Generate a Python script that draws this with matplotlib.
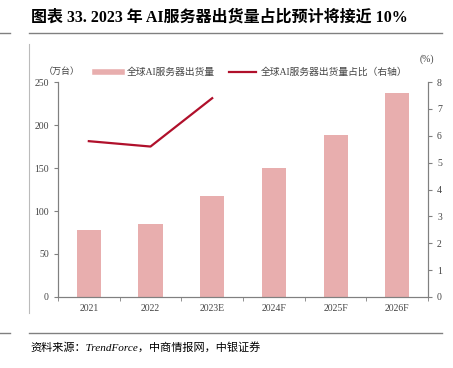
import matplotlib.pyplot as plt
import numpy as np
from matplotlib.lines import Line2D

plt.rcParams['font.family'] = ['Liberation Serif', 'Noto Sans CJK SC']

years = ['2021', '2022', '2023E', '2024F', '2025F', '2026F']
shipments = [78, 85, 118, 150, 189, 237]      # 万台
share_years = ['2021', '2022', '2023E']
share = [5.8, 5.6, 7.4]                        # %

bar_color = '#E8AEAE'
line_color = '#B0102B'
grey = '#808080'

fig = plt.figure(figsize=(4.53, 3.68), dpi=100)
ax = fig.add_axes([0.128, 0.193, 0.817, 0.584])
ax2 = ax.twinx()

x = np.arange(len(years))
ax.bar(x, shipments, width=0.39, color=bar_color, zorder=2)
ax2.plot([years.index(y) for y in share_years], share, color=line_color, lw=1.6)

ax.set_xlim(-0.5, len(years) - 0.5)
ax.set_ylim(0, 250)
ax.set_yticks(range(0, 251, 50))
ax2.set_ylim(0, 8)
ax2.set_yticks(range(0, 9))

ax.set_xticks(x)
ax.set_xticklabels(years)
ax.set_xticks(np.arange(-0.5, len(years), 1), minor=True)
ax.tick_params(axis='x', which='major', length=0, pad=5)
ax.tick_params(axis='x', which='minor', length=3, color=grey, direction='out')

for a in (ax, ax2):
    for s in a.spines.values():
        s.set_color(grey)
    a.spines['top'].set_visible(False)
    a.tick_params(axis='y', length=3, color=grey, labelsize=7, labelcolor='#444444')
ax.tick_params(axis='x', labelsize=7, labelcolor='#444444')

fig.text(0.137, 0.805, '（万台）', fontsize=6.5, ha='center', va='center', color='#444444')
fig.text(0.943, 0.838, '(%)', fontsize=7, ha='center', va='center', color='#444444')

handles = [Line2D([], [], color=bar_color, lw=4),
           Line2D([], [], color=line_color, lw=1.6)]
fig.legend(handles, ['全球AI服务器出货量', '全球AI服务器出货量占比（右轴）'],
           loc='center', bbox_to_anchor=(0.555, 0.803), ncol=2, frameon=False,
           fontsize=7, handlelength=2.8, columnspacing=1.4, handletextpad=0.5,
           labelcolor='#444444')

# title, rules and source
fig.text(0.068, 0.951, '图表 33. 2023 年 AI服务器出货量占比预计将接近 10%',
         fontsize=11.5, fontweight='bold', ha='left', va='center')
fig.add_artist(Line2D([0.064, 0.976], [0.91, 0.91], color=grey, lw=1))
fig.add_artist(Line2D([0.0, 0.022], [0.91, 0.91], color=grey, lw=1))
fig.add_artist(Line2D([0.064, 0.064], [0.15, 0.88], color='#BBBBBB', lw=0.8))
fig.add_artist(Line2D([0.064, 0.976], [0.095, 0.095], color=grey, lw=1))
fig.add_artist(Line2D([0.0, 0.022], [0.095, 0.095], color=grey, lw=1))
fig.text(0.068, 0.057, '资料来源：TrendForce，中商情报网，中银证券',
         fontsize=8, style='italic', ha='left', va='center')

fig.savefig('out.png', dpi=100)
